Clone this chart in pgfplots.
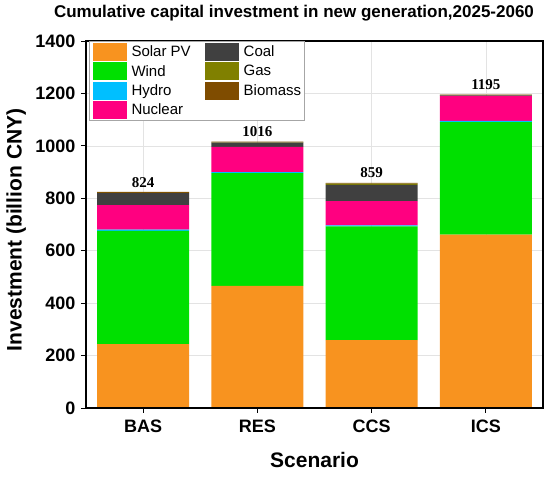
\documentclass[border=0pt]{standalone}
\usepackage{pgfplots}
\usepackage{pgfplotstable}
\pgfplotsset{compat=1.18}
\usepackage{fontspec}
\setmainfont{Liberation Sans}
\newfontfamily\seriffont{Liberation Serif}
\definecolor{csolar}{HTML}{F8931F}
\definecolor{cwind}{HTML}{00E000}
\definecolor{chydro}{HTML}{00BFFF}
\definecolor{cnuclear}{HTML}{FF0080}
\definecolor{ccoal}{HTML}{404040}
\definecolor{cgas}{HTML}{808000}
\definecolor{cbiomass}{HTML}{7F4C00}
\pgfplotsset{
  layers/mylayers/.define layer set={axis background,axis grid,pre main,main,axis ticks,axis lines,axis tick labels,axis descriptions,axis foreground}{/pgfplots/layers/standard},
}
\pgfplotstableread{
x solar wind hydro nuclear coal gas biomass total
0 244 432 4 94 46 1 3 824
1 466 430 4 96 16 1 3 1016
2 259 434 4 92 62 5 3 859
3 661 430 4 96 2 1 1 1195
}\datatable
\begin{document}
\begin{tikzpicture}
\begin{axis}[
  set layers=mylayers,
  at={(86pt,69pt)}, anchor=south west,
  scale only axis, width=457pt, height=367pt,
  ybar stacked, bar width=92pt,
  xmin=-0.5, xmax=3.5, ymin=0, ymax=1400,
  xtick={0,1,2,3}, xticklabels={BAS,RES,CCS,ICS},
  ytick={0,200,...,1400},
  tick align=outside, major tick length=5pt,
  xtick pos=bottom, ytick pos=left,
  tick style={black, line width=0.9pt},
  axis line style={black, line width=1.3pt},
  grid=major, major grid style={gray!22, line width=0.6pt},
  /pgf/number format/assume math mode=true,
  /pgf/number format/1000 sep={},
  ticklabel style={font=\fontsize{18}{18}\selectfont\bfseries},
  xticklabel style={yshift=-3pt},
  yticklabel style={xshift=-2pt},
  xlabel={Scenario}, ylabel={Investment (billion CNY)},
  label style={font=\fontsize{21}{21}\selectfont\bfseries},
  xlabel style={at={(axis description cs:0.5,0)}, anchor=base, yshift=-60pt},
  ylabel style={at={(axis description cs:-0.153,0.485)}, anchor=center},
  title={Cumulative capital investment in new generation,2025-2060},
  title style={font=\fontsize{17}{17}\selectfont\bfseries, at={(axis description cs:0.5,1)}, anchor=base, yshift=17pt, xshift=-20.5pt},
  legend columns=2,
  legend cell align=left,
  legend image code/.code={\fill[#1] (0pt,-9pt) rectangle (34pt,9pt);},
  legend style={at={(axis description cs:0.007,0.999)}, anchor=north west,
    draw=gray!70, line width=0.6pt, inner xsep=3pt, inner ysep=1.5pt,
    font=\fontsize{15}{15}\selectfont, row sep=1.3pt,
    nodes={inner sep=0pt},
    /tikz/every odd column/.append style={column sep=5pt},
    /tikz/every even column/.append style={column sep=14pt}},
]
\addplot[fill=csolar, draw=none, forget plot] table[x=x, y=solar] {\datatable};
\addplot[fill=cwind, draw=none, forget plot] table[x=x, y=wind] {\datatable};
\addplot[fill=chydro, draw=none, forget plot] table[x=x, y=hydro] {\datatable};
\addplot[fill=cnuclear, draw=none, forget plot] table[x=x, y=nuclear] {\datatable};
\addplot[fill=ccoal, draw=none, forget plot] table[x=x, y=coal] {\datatable};
\addplot[fill=cgas, draw=none, forget plot] table[x=x, y=gas] {\datatable};
\addplot[fill=cbiomass, draw=none, forget plot,
  point meta=explicit, nodes near coords,
  every node near coord/.append style={font=\fontsize{15}{15}\selectfont\seriffont\bfseries, black, anchor=south, inner sep=0pt, yshift=5pt},
  nodes near coords={\pgfmathprintnumber[1000 sep={}]{\pgfplotspointmeta}}
] table[x=x, y=biomass, meta=total] {\datatable};
\addlegendimage{fill=csolar, draw=none}
\addlegendentry{Solar PV}
\addlegendimage{fill=ccoal, draw=none}
\addlegendentry{Coal}
\addlegendimage{fill=cwind, draw=none}
\addlegendentry{Wind}
\addlegendimage{fill=cgas, draw=none}
\addlegendentry{Gas}
\addlegendimage{fill=chydro, draw=none}
\addlegendentry{Hydro}
\addlegendimage{fill=cbiomass, draw=none}
\addlegendentry{Biomass}
\addlegendimage{fill=cnuclear, draw=none}
\addlegendentry{Nuclear}
\end{axis}
\pgfresetboundingbox
\path (0,0) rectangle (550pt,477pt);
\end{tikzpicture}
\end{document}
